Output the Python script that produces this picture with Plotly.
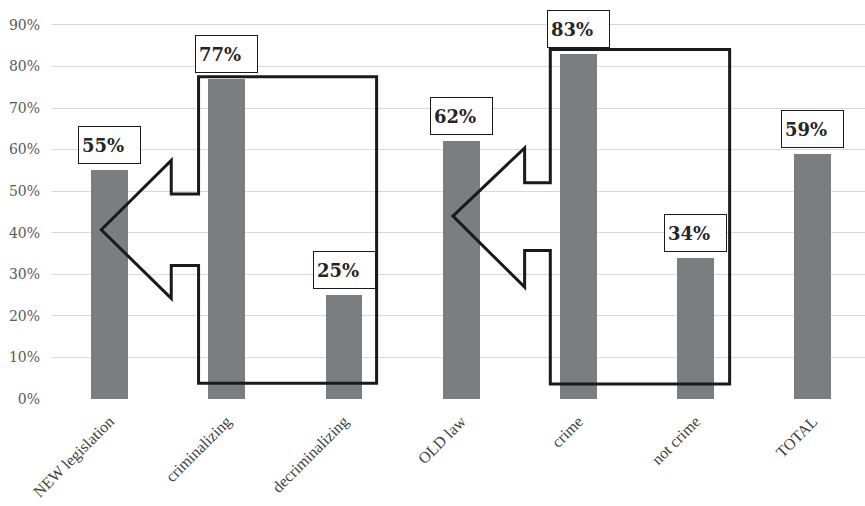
import plotly.graph_objects as go

categories = ["NEW legislation", "criminalizing", "decriminalizing", "OLD law", "crime", "not crime", "TOTAL"]
values = [0.55, 0.77, 0.25, 0.62, 0.83, 0.34, 0.59]
value_labels = ["55%", "77%", "25%", "62%", "83%", "34%", "59%"]
y_ticks = [0, 0.1, 0.2, 0.3, 0.4, 0.5, 0.6, 0.7, 0.8, 0.9]
y_tick_labels = ["0%", "10%", "20%", "30%", "40%", "50%", "60%", "70%", "80%", "90%"]

SERIF = "Georgia, 'DejaVu Serif', serif"

fig = go.Figure()
fig.add_trace(go.Bar(
    x=list(range(len(categories))), y=values,
    marker=dict(color="#7c7d81", line=dict(width=0)),
    width=0.315, hoverinfo="skip", showlegend=False,
))

# value label boxes
for i, (v, t) in enumerate(zip(values, value_labels)):
    fig.add_annotation(
        x=i, y=v, xref="x", yref="y", text="<b>" + t + "</b>",
        showarrow=False, yanchor="bottom", xanchor="center", yshift=6,
        width=55, height=30, align="left", valign="middle",
        bgcolor="white", bordercolor="#1a1a1a", borderwidth=1, borderpad=3,
        font=dict(family=SERIF, size=18, color="#262626"),
    )

# block arrows (geometry in data units: category index, value)
def block_arrow(tip_x, tip_y, barb_x, barb_top, barb_bot, shaft_x, notch_top, notch_bot, box_top, box_right, box_bot):
    pts = [(tip_x, tip_y), (barb_x, barb_top), (barb_x, notch_top), (shaft_x, notch_top),
           (shaft_x, box_top), (box_right, box_top), (box_right, box_bot), (shaft_x, box_bot),
           (shaft_x, notch_bot), (barb_x, notch_bot), (barb_x, barb_bot)]
    return "M " + " L ".join(f"{x},{y}" for x, y in pts) + " Z"

arrows = [
    dict(tip_x=-0.071, tip_y=0.407, barb_x=0.526, barb_top=0.574, barb_bot=0.242, shaft_x=0.759,
         notch_top=0.493, notch_bot=0.321, box_top=0.775, box_right=2.278, box_bot=0.038),
    dict(tip_x=2.929, tip_y=0.440, barb_x=3.541, barb_top=0.604, barb_bot=0.269, shaft_x=3.760,
         notch_top=0.520, notch_bot=0.357, box_top=0.841, box_right=5.290, box_bot=0.036),
]
for a in arrows:
    fig.add_shape(type="path", path=block_arrow(**a), xref="x", yref="y",
                  line=dict(color="#1a1a1a", width=3), fillcolor="rgba(0,0,0,0)", layer="above")

fig.update_layout(
    width=865, height=506,
    margin=dict(l=51, r=0, t=2, b=107),
    paper_bgcolor="white", plot_bgcolor="white",
    bargap=0,
    xaxis=dict(range=[-0.5, 6.445], tickmode="array", tickvals=list(range(len(categories))),
               ticktext=categories, tickangle=-45, showgrid=False, zeroline=False, showline=False,
               ticks="", automargin=False, ticklabelstandoff=9,
               tickfont=dict(family="'Liberation Serif', serif", size=16, color="#404040")),
    yaxis=dict(range=[0, 0.955], tickmode="array", tickvals=y_ticks, ticktext=y_tick_labels,
               showgrid=True, gridcolor="#d9d9d9", gridwidth=1, zeroline=False, showline=False,
               ticks="", ticklabelstandoff=10, automargin=False,
               tickfont=dict(family=SERIF, size=14, color="#595959")),
)

fig.write_html("out.html", config={"displayModeBar": False},
               post_script="document.body.style.margin='0';document.body.style.padding='0';")
